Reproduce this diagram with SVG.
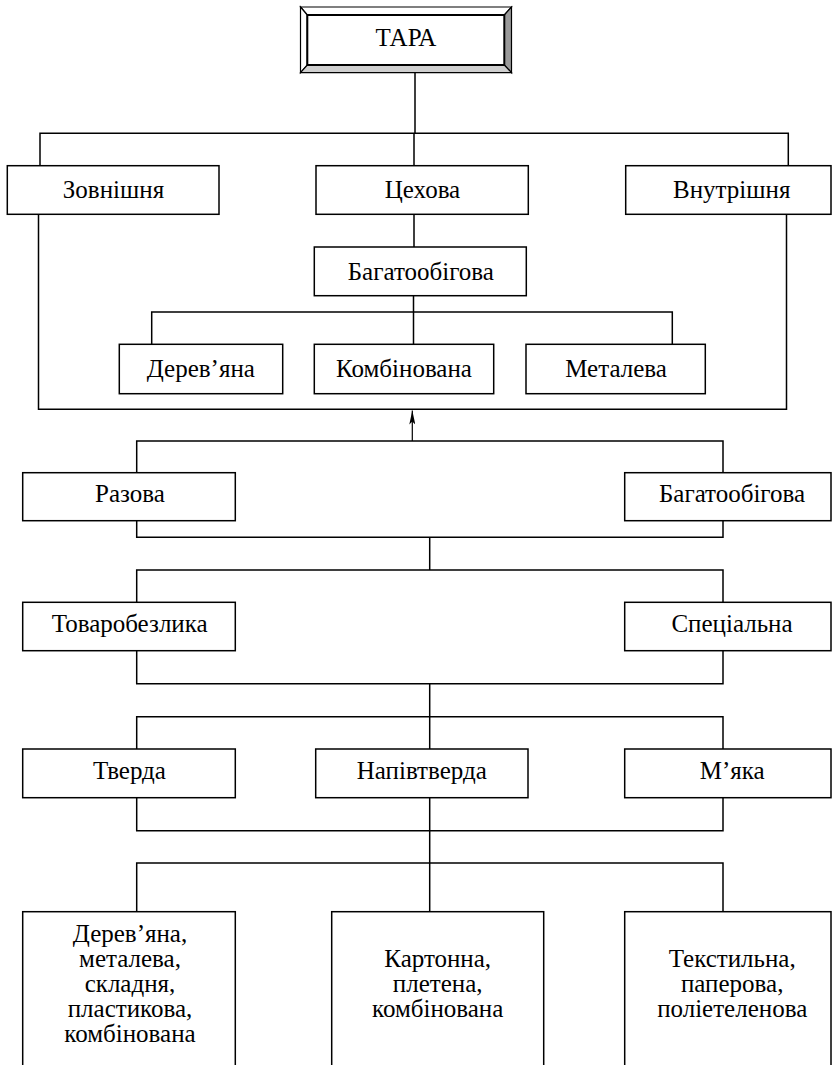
<svg xmlns="http://www.w3.org/2000/svg" width="833" height="1065" viewBox="0 0 833 1065">
<style>
.box{fill:#fff;stroke:#000;stroke-width:1.5}
.ln{fill:none;stroke:#000;stroke-width:1.5}
.t{font-family:"Liberation Serif","Times New Roman","DejaVu Serif",serif;font-size:25px;fill:#000;text-anchor:middle}
</style>
<defs>
<marker id="ah" viewBox="0 0 14 6" refX="14" refY="3" markerWidth="14" markerHeight="6" markerUnits="userSpaceOnUse" orient="auto">
<path d="M0,0 L14,3 L0,6 L3,3 Z" fill="#000"/>
</marker>
</defs>
<rect width="833" height="1065" fill="#fff"/>
<g id="connectors">
<path class="ln" d="M415,72.7 V133.3 M40,165.7 V133.3 H788.3 V165.7 M414,133.3 V165.7"/>
<path class="ln" d="M414,214.3 V247 M413.5,295.7 V344.3 M151.7,344.3 V312 H672.3 V344.3"/>
<path class="ln" d="M38.5,214.3 V409.3 H786.5 V214.3"/>
<path fill="none" stroke="#000" stroke-width="1.2" d="M412.3,441 V410.5" marker-end="url(#ah)"/>
<path class="ln" d="M136.7,472.7 V441 H723 V472.7 M136.7,520.7 V537.3 H723 V520.7 M429.7,537.3 V570"/>
<path class="ln" d="M136.7,602.3 V570 H723 V602.3 M136.7,650.7 V683.7 H723 V650.7 M429.7,683.7 V716.7"/>
<path class="ln" d="M136.7,749 V716.7 H723 V749 M429.7,716.7 V749 M136.7,797.7 V830.7 H723 V797.7 M429.7,797.7 V911.7"/>
<path class="ln" d="M136.7,911.7 V863 H723 V911.7"/>
</g>
<g id="tara">
<polygon points="300.5,7 511.5,7 504.3,15 307.3,15" fill="#fff" stroke="#000" stroke-width="1.2"/>
<polygon points="300.5,7 307.3,15 307.3,65 300.5,72.7" fill="#fff" stroke="#000" stroke-width="1.2"/>
<polygon points="511.5,7 511.5,72.7 504.3,65 504.3,15" fill="#9a9a9a" stroke="#000" stroke-width="1.2"/>
<polygon points="300.5,72.7 307.3,65 504.3,65 511.5,72.7" fill="#cfcfcf" stroke="#000" stroke-width="1.2"/>
<rect x="307.3" y="15" width="197" height="50" fill="#fff" stroke="#000" stroke-width="2"/>
<text class="t" x="406" y="45.7">ТАРА</text>
</g>
<g id="zovnishnia"><rect class="box" x="7.3" y="165.7" width="211.7" height="48.6"/><text class="t" x="113.5" y="198.3">Зовнішня</text></g>
<g id="tsekhova"><rect class="box" x="316" y="165.7" width="212.3" height="48.6"/><text class="t" x="422.5" y="198.3">Цехова</text></g>
<g id="vnutrishnia"><rect class="box" x="625.7" y="165.7" width="205.3" height="48.6"/><text class="t" x="731.7" y="198.3">Внутрішня</text></g>
<g id="bahatoobihova1"><rect class="box" x="314.3" y="247" width="212" height="48.7"/><text class="t" x="420.8" y="279.5">Багатообігова</text></g>
<g id="derevyana1"><rect class="box" x="119.3" y="344.3" width="163.4" height="49.4"/><text class="t" x="200.8" y="377">Дерев’яна</text></g>
<g id="kombinovana1"><rect class="box" x="314.3" y="344.3" width="179.4" height="49.4"/><text class="t" x="404" y="377">Комбінована</text></g>
<g id="metaleva1"><rect class="box" x="526" y="344.3" width="179.3" height="49.4"/><text class="t" x="616" y="377">Металева</text></g>
<g id="razova"><rect class="box" x="22.7" y="472.7" width="212.6" height="48"/><text class="t" x="130" y="502.3">Разова</text></g>
<g id="bahatoobihova2"><rect class="box" x="624.7" y="472.7" width="206.3" height="48"/><text class="t" x="732" y="502.3">Багатообігова</text></g>
<g id="tovarobezlyka"><rect class="box" x="22.7" y="602.3" width="212.6" height="48.4"/><text class="t" x="129.7" y="632.3">Товаробезлика</text></g>
<g id="spetsialna"><rect class="box" x="624.7" y="602.3" width="206.3" height="48.4"/><text class="t" x="732" y="632.3">Спеціальна</text></g>
<g id="tverda"><rect class="box" x="22.7" y="749" width="212.6" height="48.7"/><text class="t" x="129.5" y="779.3">Тверда</text></g>
<g id="napivtverda"><rect class="box" x="315.7" y="749" width="212.3" height="48.7"/><text class="t" x="421.8" y="779.3">Напівтверда</text></g>
<g id="miaka"><rect class="box" x="624.7" y="749" width="206.3" height="48.7"/><text class="t" x="732.2" y="779.3">М’яка</text></g>
<g id="group1"><rect class="box" x="22.7" y="911.7" width="212.6" height="170"/>
<text class="t" x="130"><tspan x="130" y="942.3">Дерев’яна,</tspan><tspan x="130" y="967">металева,</tspan><tspan x="130" y="991.7">складня,</tspan><tspan x="130" y="1016.5">пластикова,</tspan><tspan x="130" y="1041.5">комбінована</tspan></text></g>
<g id="group2"><rect class="box" x="331.7" y="911.7" width="212" height="170"/>
<text class="t" x="437.7"><tspan x="437.7" y="966.7">Картонна,</tspan><tspan x="437.7" y="991.7">плетена,</tspan><tspan x="437.7" y="1016.7">комбінована</tspan></text></g>
<g id="group3"><rect class="box" x="624.7" y="911.7" width="206.3" height="170"/>
<text class="t" x="732.2"><tspan x="732.2" y="966.7">Текстильна,</tspan><tspan x="732.2" y="991.7">паперова,</tspan><tspan x="732.2" y="1016.7">поліетеленова</tspan></text></g>
</svg>
